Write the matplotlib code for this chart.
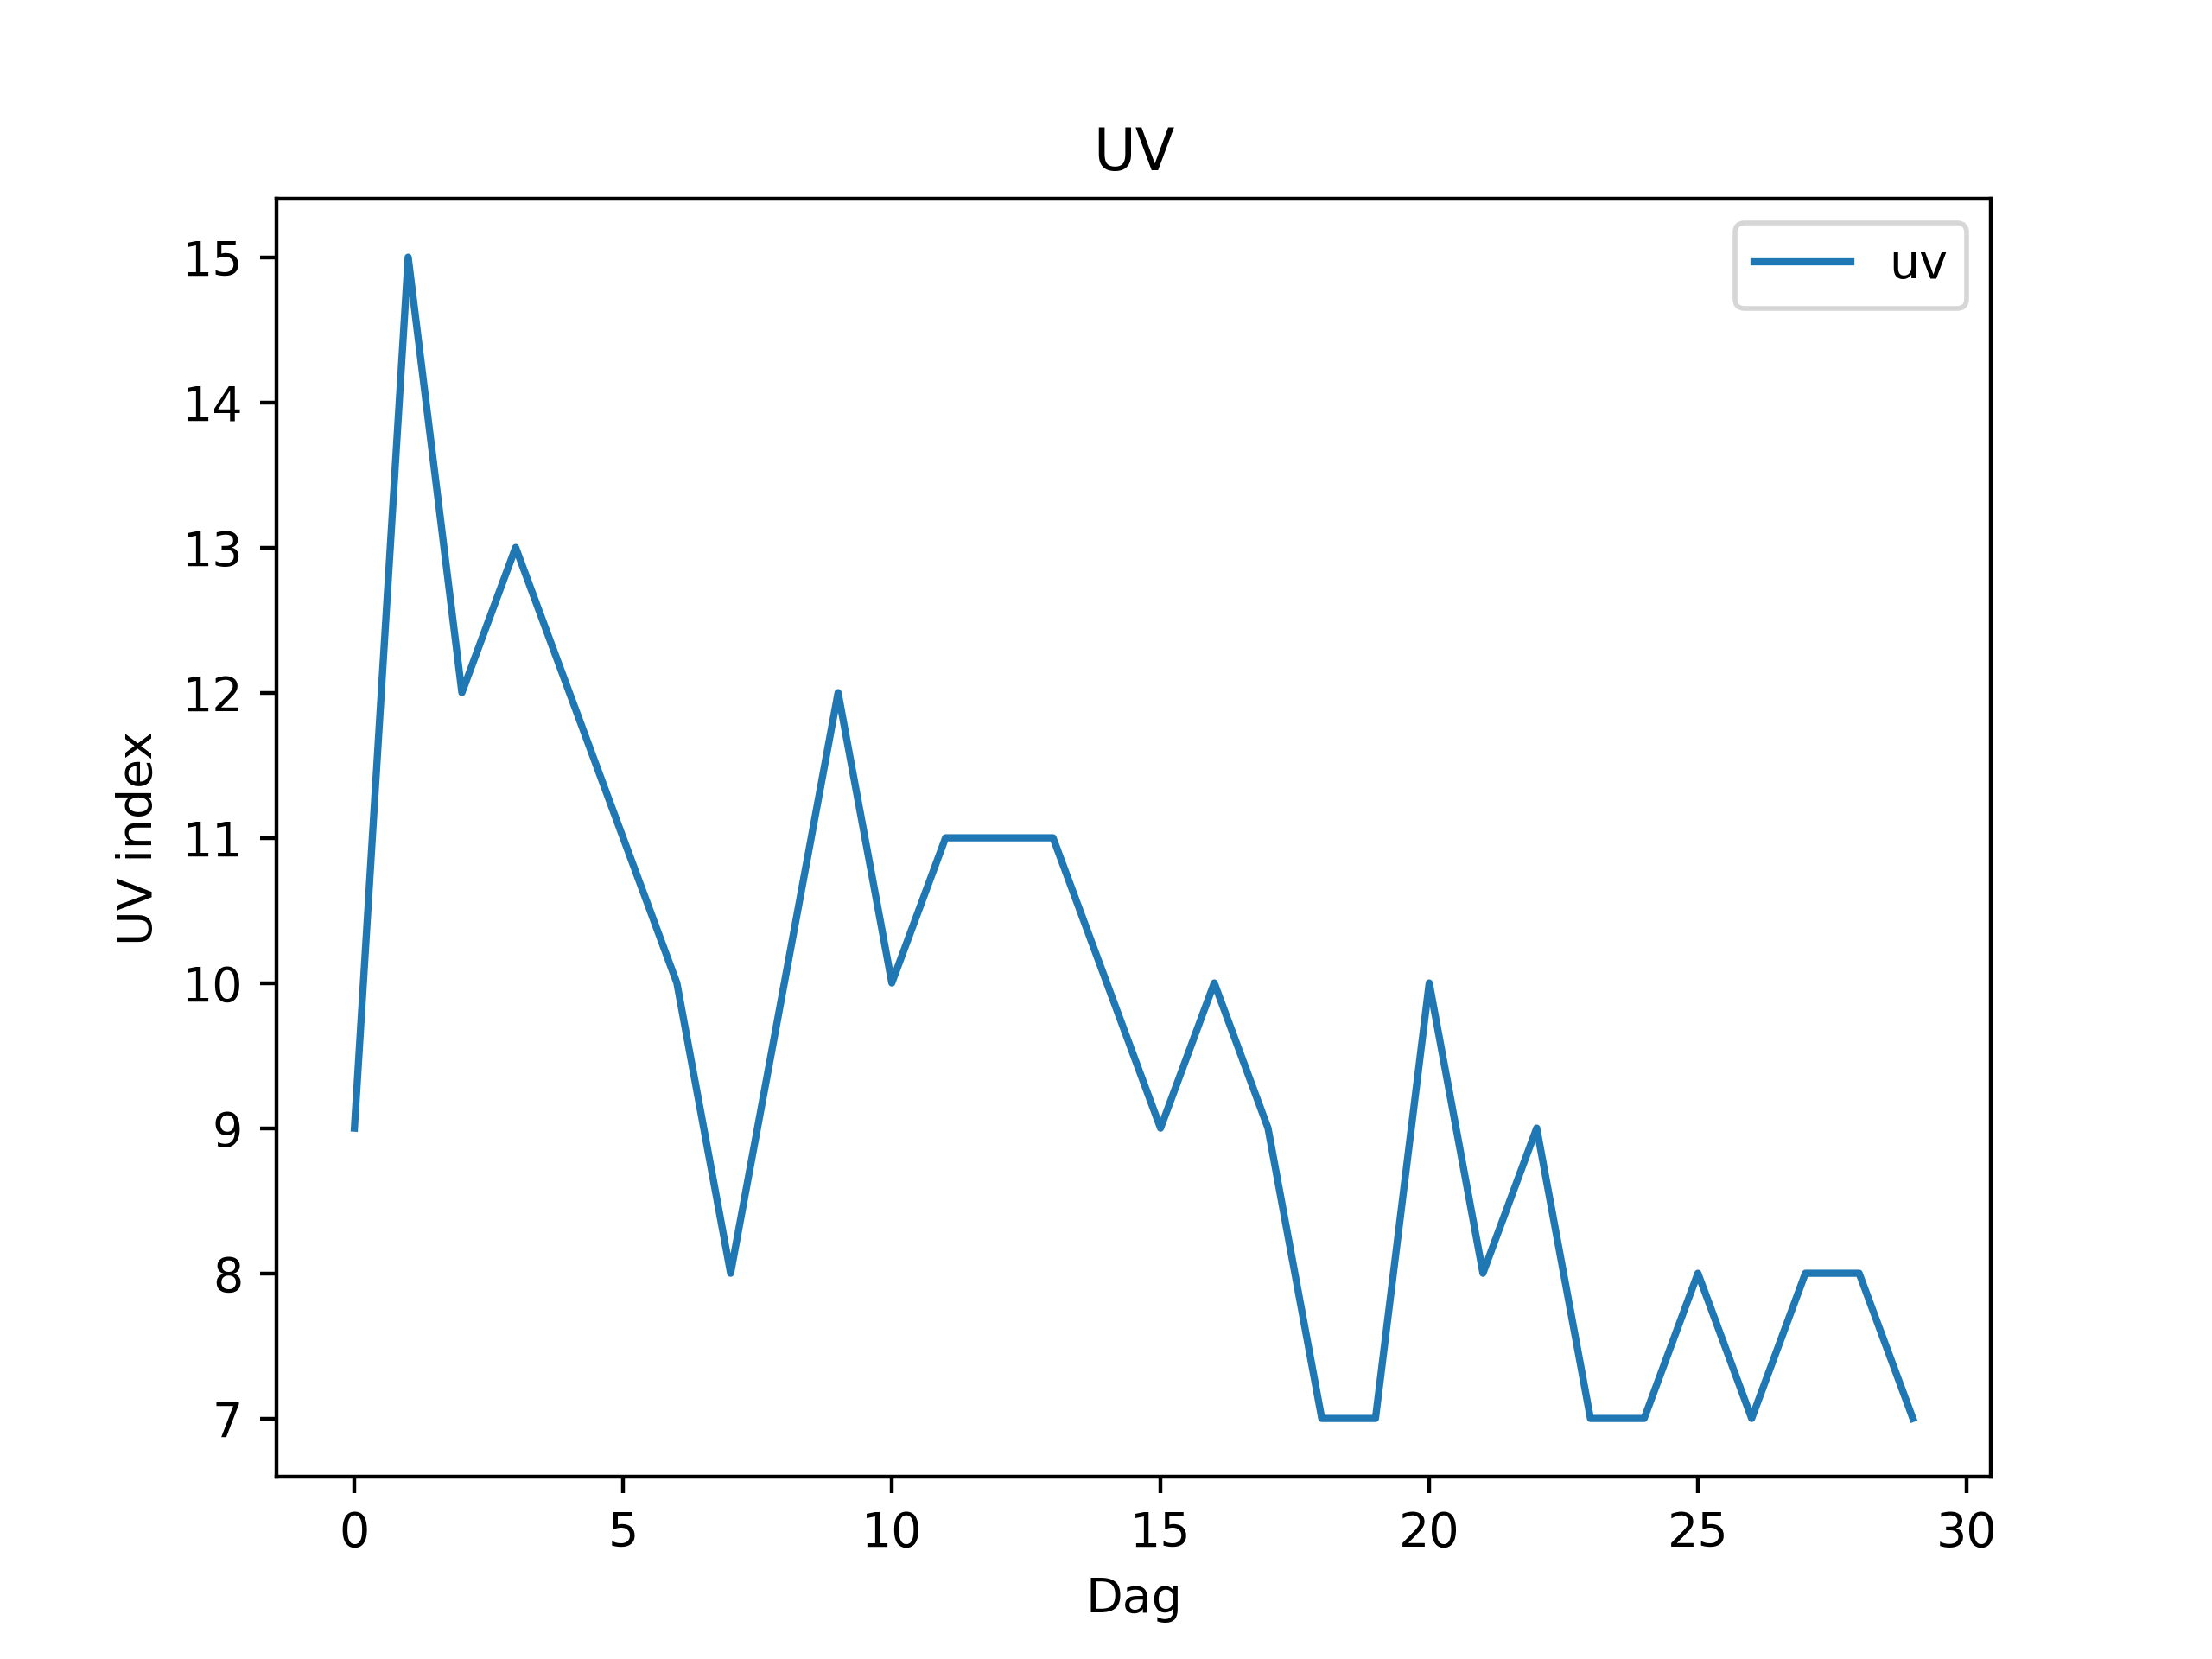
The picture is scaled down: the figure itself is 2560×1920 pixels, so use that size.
import matplotlib
matplotlib.use("Agg")
import matplotlib.pyplot as plt

dag = list(range(30))
uv = [9, 15, 12, 13, 12, 11, 10, 8, 10, 12,
      10, 11, 11, 11, 10, 9, 10, 9, 7, 7,
      10, 8, 9, 7, 7, 8, 7, 8, 8, 7]

fig, ax = plt.subplots(figsize=(6.4, 4.8), dpi=400)
ax.plot(dag, uv, label="uv")
ax.set_title("UV")
ax.set_xlabel("Dag")
ax.set_ylabel("UV index")
ax.legend(loc="upper right")
fig.savefig("out.png", dpi=400)
